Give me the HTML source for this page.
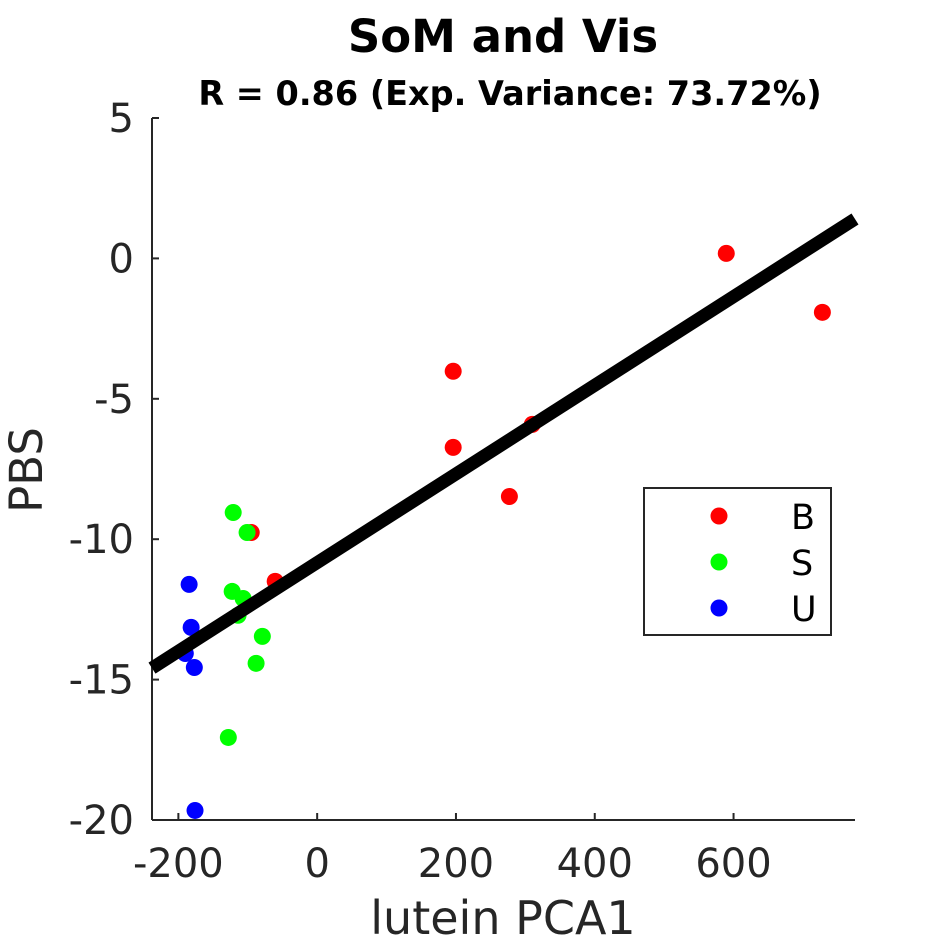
<!DOCTYPE html>
<html><head><meta charset="utf-8"><style>
html,body{margin:0;padding:0;background:#fff;}
svg{display:block;font-family:"DejaVu Sans","Liberation Sans",sans-serif;}
</style></head><body>
<svg id="chart" width="945" height="945" viewBox="0 0 945 945">
<text x="503" y="52" text-anchor="middle" font-size="45" font-weight="bold">SoM and Vis</text>
<text x="510" y="105" text-anchor="middle" font-size="33.5" font-weight="bold">R = 0.86 (Exp. Variance: 73.72%)</text>
<g id="axes"></g>
<g id="fitline"></g>
<g id="points"></g>
<text x="42" y="470" text-anchor="middle" font-size="45" fill="#262626" transform="rotate(-90 42 470)">PBS</text>
<text x="503" y="934" text-anchor="middle" font-size="46" fill="#262626">lutein PCA1</text>
<g>
<rect x="644" y="488" width="187" height="147" fill="#fff" stroke="#262626" stroke-width="2"/>
<circle cx="719" cy="516" r="8.5" fill="#ff0000"/>
<text x="791" y="529" font-size="35">B</text>
<circle cx="719" cy="562" r="8.5" fill="#00ff00"/>
<text x="791" y="575" font-size="35">S</text>
<circle cx="719" cy="608" r="8.5" fill="#0000ff"/>
<text x="791" y="621" font-size="35">U</text>
</g>
</svg>
<script>
const bX = [589.5, 728, 196, 196, 310, 277, -95, -60.5];
const bY = [0.18, -1.92, -4.02, -6.73, -5.91, -8.48, -9.76, -11.5];
const sX = [-121, -101, -122.5, -106.7, -114, -79, -88, -128];
const sY = [-9.05, -9.76, -11.86, -12.11, -12.71, -13.46, -14.42, -17.06];
const uX = [-184.5, -181.6, -190, -177, -176];
const uY = [-11.61, -13.14, -14.07, -14.57, -19.66];
const xTicks = [-200, 0, 200, 400, 600];
const yTicks = [5, 0, -5, -10, -15, -20];
const xMin = -238, xMax = 775, yMin = -20, yMax = 5;
const L = 152, R = 855, T = 118, B = 820;
const sx = v => L + (v - xMin) / (xMax - xMin) * (R - L);
const sy = v => B - (v - yMin) / (yMax - yMin) * (B - T);
const NS = "http://www.w3.org/2000/svg";
function mk(tag, attrs, parent){const e=document.createElementNS(NS,tag);for(const k in attrs)e.setAttribute(k,attrs[k]);parent.appendChild(e);return e;}
const axes = document.getElementById('axes');
let e = mk('line',{x1:L,y1:T,x2:L,y2:B,stroke:'#262626','stroke-width':2},axes);


e = mk('line',{x1:L,y1:B,x2:R,y2:B,stroke:'#262626','stroke-width':2},axes);


xTicks.forEach(t=>{
  const x=sx(t);
  let l=mk('line',{x1:x,y1:B,x2:x,y2:B-7,stroke:'#262626','stroke-width':2},axes);
  
  
  let tx=mk('text',{x:x,y:B+57,'text-anchor':'middle','font-size':40,fill:'#262626'},axes);
  tx.textContent=t;
  
  
});
yTicks.forEach(t=>{
  const y=sy(t);
  let l=mk('line',{x1:L,y1:y,x2:L+7,y2:y,stroke:'#262626','stroke-width':2},axes);
  
  
  let tx=mk('text',{x:L-18,y:y+14,'text-anchor':'end','font-size':40,fill:'#262626'},axes);
  tx.textContent=t;
  
  
});
const ax=bX.concat(sX,uX), ay=bY.concat(sY,uY);
const n=ax.length, mx=ax.reduce((a,b)=>a+b)/n, my=ay.reduce((a,b)=>a+b)/n;
let sxy=0,sxx=0;for(let i=0;i<n;i++){sxy+=(ax[i]-mx)*(ay[i]-my);sxx+=(ax[i]-mx)**2;}
const slope=sxy/sxx, icpt=my-slope*mx;
const pts=document.getElementById('points');
function drawSeries(xs,ys,col,name){
  xs.forEach((v,i)=>{
    const c=mk('circle',{cx:sx(v),cy:sy(ys[i]),r:8.5,fill:col},pts);
    
    
  });
}
drawSeries(bX,bY,'#ff0000','point-b');
drawSeries(sX,sY,'#00ff00','point-s');
drawSeries(uX,uY,'#0000ff','point-u');
const fl=mk('line',{x1:sx(xMin),y1:sy(slope*xMin+icpt),x2:sx(xMax),y2:sy(slope*xMax+icpt),stroke:'#000','stroke-width':13},document.getElementById('fitline'));


document.getElementById('chart').appendChild(document.getElementById('fitline'));
</script>
</body></html>
